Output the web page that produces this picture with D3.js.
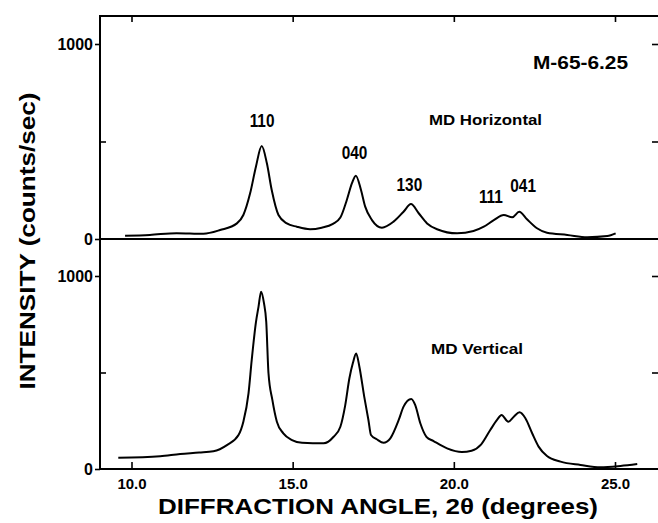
<!DOCTYPE html>
<html><head><meta charset="utf-8">
<script src="https://cdn.jsdelivr.net/npm/d3@7"></script>
<style>html,body{margin:0;padding:0;background:#fff;}svg{display:block;}</style>
</head><body>
<svg id="c" width="658" height="523"></svg>
<script>
// ---- data ----
const xTicks = [10, 15, 20, 25];
const xTickLabels = ["10.0", "15.0", "20.0", "25.0"];
const yTicksLabeled = [0, 1000];
const yTicksMinor = [500];

const hAngle = [9.80,10.57,11.40,12.23,12.75,13.27,13.47,13.68,13.86,14.04,14.20,14.35,14.56,14.82,15.13,15.54,15.90,16.25,16.48,16.68,16.84,16.96,17.12,17.25,17.46,17.77,18.13,18.44,18.67,18.91,19.17,19.48,20.10,20.61,20.93,21.24,21.55,21.81,22.03,22.27,22.58,22.89,23.52,24.14,24.76,25.02];
const hIntensity = [17,21,30,27,46,80,123,234,371,477,388,251,123,80,63,50,58,78,110,200,286,325,251,166,97,58,89,140,179,132,80,50,29,41,63,97,123,111,140,101,55,32,21,9,15,29];

const vAngle = [9.59,10.89,11.51,12.10,12.54,12.96,13.32,13.47,13.63,13.73,13.86,13.94,14.02,14.11,14.18,14.25,14.37,14.51,14.71,14.98,15.29,15.96,16.27,16.48,16.63,16.76,16.87,16.97,17.07,17.22,17.35,17.43,17.61,17.82,18.03,18.29,18.44,18.68,18.80,18.96,19.15,19.37,19.79,20.25,20.55,20.85,21.13,21.34,21.48,21.69,21.86,22.04,22.22,22.43,22.63,22.89,23.31,23.93,24.55,25.17,25.69];
const vIntensity = [58,66,78,85,92,124,176,245,392,565,760,840,919,859,763,496,358,245,185,150,136,133,167,219,330,470,550,599,530,375,254,176,154,136,159,254,323,363,332,237,167,145,107,88,95,128,202,254,280,245,271,294,263,185,116,67,38,21,9,16,26];

const peakNames = ["110", "040", "130", "111", "041"];
const peakAngle = [14.05, 16.92, 18.62, 21.15, 22.15];
const peakLabelIntensity = [610, 445, 278, 220, 272];

// ---- layout ----
const svg = d3.select("#c");
const L = 100, R = 658, T = 16, MID = 239, B = 469;
const x = d3.scaleLinear().domain([10, 25]).range([131.5, 615]);
const yTop = d3.scaleLinear().domain([0, 1000]).range([MID, 44]);
const yBot = d3.scaleLinear().domain([0, 1000]).range([B, 276]);
const boldFont = "'Liberation Sans', Arial, Helvetica, sans-serif";

// frame
const frame = svg.append("g").attr("stroke", "#000").attr("stroke-width", 2).attr("fill", "none");
frame.append("line").attr("x1", L).attr("x2", L).attr("y1", T - 1).attr("y2", B + 1);
frame.append("line").attr("x1", L - 1).attr("x2", R).attr("y1", T).attr("y2", T);
frame.append("line").attr("x1", L - 1).attr("x2", R).attr("y1", MID).attr("y2", MID);
frame.append("line").attr("x1", L - 1).attr("x2", R).attr("y1", B).attr("y2", B);

function styleAxis(g, size) {
  g.select(".domain").remove();
  g.selectAll(".tick line").attr("stroke", "#000").attr("stroke-width", 1.6);
  g.selectAll(".tick text").attr("fill", "#000").attr("font-family", boldFont)
    .attr("font-weight", "bold").attr("font-size", size || 15);
}

// y axes (both panels)
[yTop, yBot].forEach(ys => {
  svg.append("g").attr("transform", `translate(${L},0)`)
    .call(d3.axisLeft(ys).tickValues(yTicksLabeled).tickSize(5).tickPadding(2).tickFormat(d3.format("d")))
    .call(g => styleAxis(g, 16));
  svg.append("g").attr("transform", `translate(${L},0)`)
    .call(d3.axisRight(ys).tickValues(yTicksMinor).tickSize(6).tickFormat(""))
    .call(g => styleAxis(g));
  svg.append("g").attr("transform", `translate(${R},0)`)
    .call(d3.axisLeft(ys).tickValues([500, 1000]).tickSize(6).tickFormat(""))
    .call(g => styleAxis(g));
});

// x axes
svg.append("g").attr("transform", `translate(0,${B})`)
  .call(d3.axisBottom(x).tickValues(xTicks).tickSize(-7).tickPadding(9)
        .tickFormat((d, i) => xTickLabels[i]))
  .call(g => styleAxis(g, 15));
svg.append("g").attr("transform", `translate(0,${T})`)
  .call(d3.axisBottom(x).tickValues(xTicks).tickSize(6).tickFormat(""))
  .call(g => styleAxis(g));

// curves
const lineTop = d3.line().x(d => x(d[0])).y(d => yTop(d[1])).curve(d3.curveMonotoneX);
const lineBot = d3.line().x(d => x(d[0])).y(d => yBot(d[1])).curve(d3.curveMonotoneX);
svg.append("path").datum(d3.zip(hAngle, hIntensity)).attr("d", lineTop)
  .attr("fill", "none").attr("stroke", "#000").attr("stroke-width", 2).attr("stroke-linejoin", "round");
svg.append("path").datum(d3.zip(vAngle, vIntensity)).attr("d", lineBot)
  .attr("fill", "none").attr("stroke", "#000").attr("stroke-width", 2).attr("stroke-linejoin", "round");

// peak labels (condensed look)
peakNames.forEach((n, i) => {
  svg.append("text")
    .attr("transform", `translate(${x(peakAngle[i])},${yTop(peakLabelIntensity[i]) + 6.5}) scale(0.88,1)`)
    .attr("text-anchor", "middle")
    .attr("font-family", boldFont).attr("font-weight", "bold").attr("font-size", 17.5)
    .text(n);
});

// annotations
svg.append("text").attr("x", 533).attr("y", 69).attr("font-family", boldFont)
  .attr("font-weight", "bold").attr("font-size", 18).attr("textLength", 95).attr("lengthAdjust", "spacingAndGlyphs")
  .text("M-65-6.25");
svg.append("text").attr("x", 429).attr("y", 125).attr("font-family", boldFont)
  .attr("font-weight", "bold").attr("font-size", 15).attr("textLength", 113).attr("lengthAdjust", "spacingAndGlyphs")
  .text("MD Horizontal");
svg.append("text").attr("x", 431).attr("y", 354).attr("font-family", boldFont)
  .attr("font-weight", "bold").attr("font-size", 15).attr("textLength", 92).attr("lengthAdjust", "spacingAndGlyphs")
  .text("MD Vertical");

// axis titles
svg.append("text").attr("x", 378).attr("y", 514).attr("text-anchor", "middle")
  .attr("font-family", boldFont).attr("font-weight", "bold").attr("font-size", 22)
  .attr("textLength", 440).attr("lengthAdjust", "spacingAndGlyphs")
  .text("DIFFRACTION ANGLE, 2θ (degrees)");
svg.append("text").attr("transform", "translate(35,241) rotate(-90)").attr("text-anchor", "middle")
  .attr("font-family", boldFont).attr("font-weight", "bold").attr("font-size", 22)
  .attr("textLength", 297).attr("lengthAdjust", "spacingAndGlyphs")
  .text("INTENSITY (counts/sec)");
</script>
</body></html>
